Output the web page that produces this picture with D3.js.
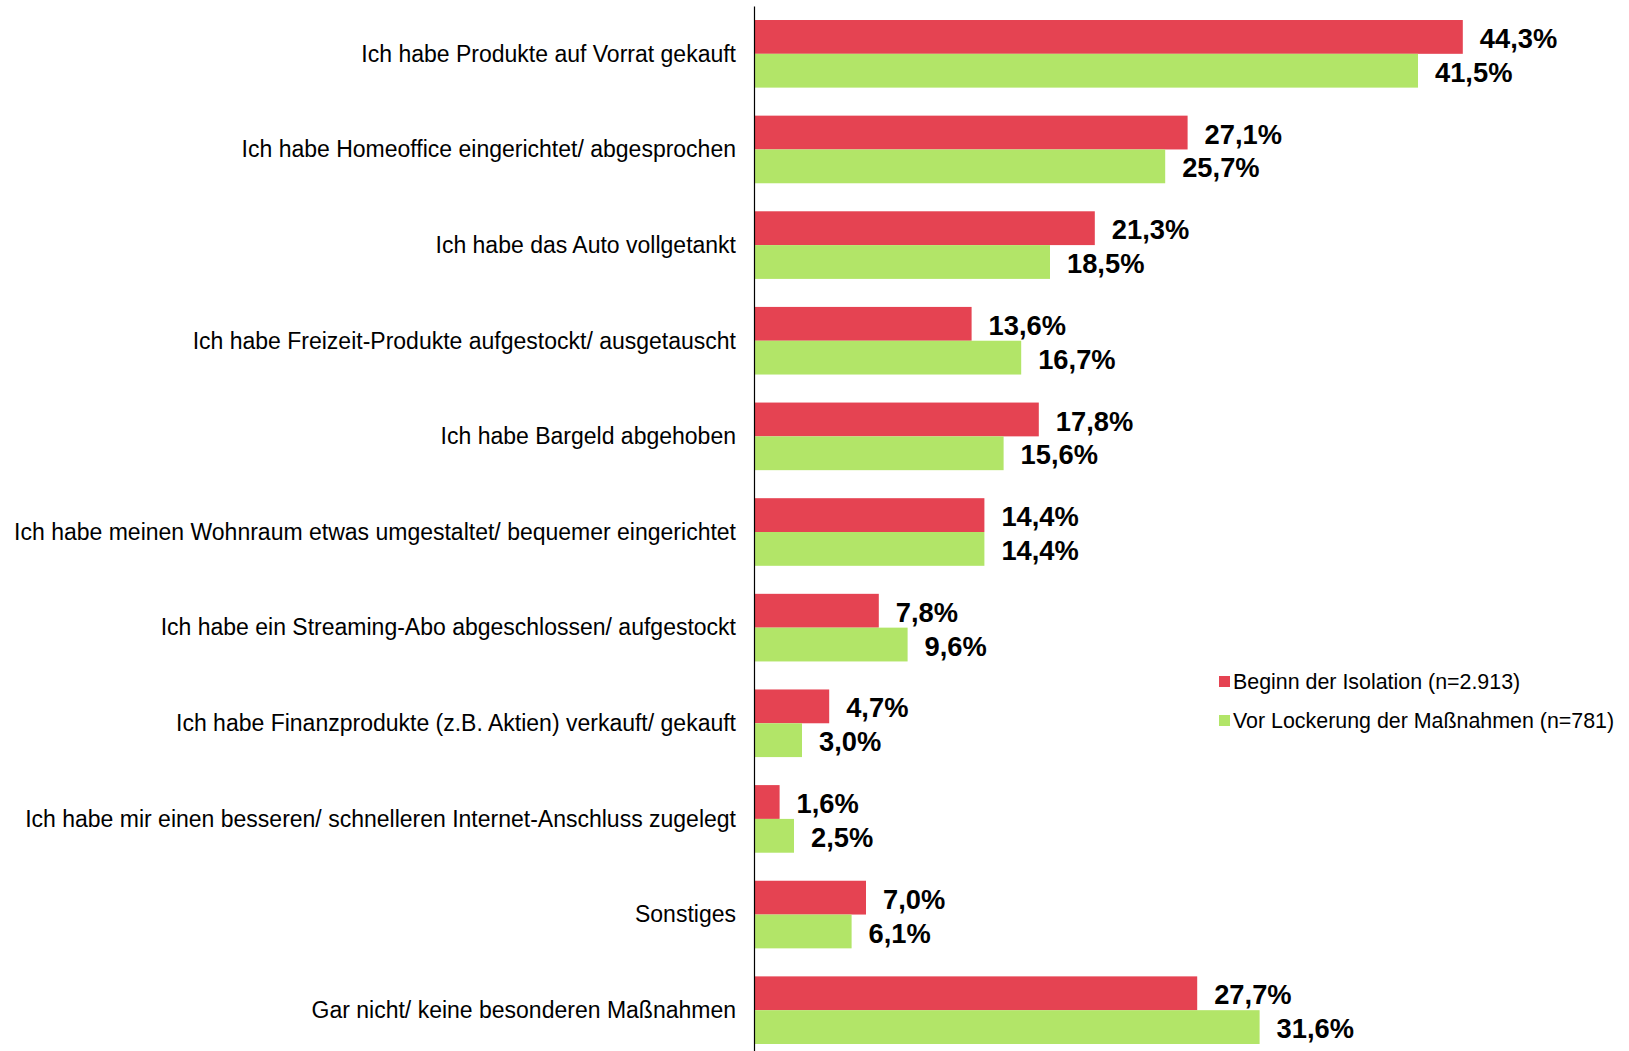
<!DOCTYPE html>
<html><head><meta charset="utf-8">
<script src="https://cdn.jsdelivr.net/npm/d3@7"></script>
<style>body{margin:0;background:#fff}svg{display:block;font-family:"Liberation Sans",Arial,sans-serif}</style>
</head><body><svg id="c" width="1629" height="1051"></svg>
<script>
const categories = [
  "Ich habe Produkte auf Vorrat gekauft",
  "Ich habe Homeoffice eingerichtet/ abgesprochen",
  "Ich habe das Auto vollgetankt",
  "Ich habe Freizeit-Produkte aufgestockt/ ausgetauscht",
  "Ich habe Bargeld abgehoben",
  "Ich habe meinen Wohnraum etwas umgestaltet/ bequemer eingerichtet",
  "Ich habe ein Streaming-Abo abgeschlossen/ aufgestockt",
  "Ich habe Finanzprodukte (z.B. Aktien) verkauft/ gekauft",
  "Ich habe mir einen besseren/ schnelleren Internet-Anschluss zugelegt",
  "Sonstiges",
  "Gar nicht/ keine besonderen Maßnahmen"
];
const seriesNames = ["Beginn der Isolation (n=2.913)", "Vor Lockerung der Maßnahmen (n=781)"];
const beginn = [44.3, 27.1, 21.3, 13.6, 17.8, 14.4, 7.8, 4.7, 1.6, 7.0, 27.7];
const vorLockerung = [41.5, 25.7, 18.5, 16.7, 15.6, 14.4, 9.6, 3.0, 2.5, 6.1, 31.6];
const colors = ["#E54352", "#B2E568"];

const svg = d3.select("#c");
const x = d3.scaleLinear().domain([0, 50]).range([754, 1554]);
const y0 = d3.scaleBand().domain(categories).range([6, 1058]).paddingInner(0.293).paddingOuter(0.1465);
const y1 = d3.scaleBand().domain([0, 1]).range([0, y0.bandwidth()]);
const fmt = v => d3.format(".1f")(v).replace(".", ",") + "%";

const seriesData = [beginn, vorLockerung];
const g = svg.append("g");
seriesData.forEach((vals, si) => {
  g.selectAll(".b" + si).data(vals).enter().append("rect")
    .attr("x", x(0))
    .attr("y", (d, i) => y0(categories[i]) + y1(si))
    .attr("width", d => x(d) - x(0))
    .attr("height", y1.bandwidth())
    .attr("fill", colors[si]);
  g.selectAll(".t" + si).data(vals).enter().append("text")
    .attr("x", d => x(d) + 17)
    .attr("y", (d, i) => y0(categories[i]) + y1(si) + y1.bandwidth() / 2 + 1.5)
    .attr("dy", "0.35em")
    .attr("font-size", 27.3)
    .attr("font-weight", "bold")
    .attr("fill", "#000")
    .text(fmt);
});

const axis = svg.append("g").attr("transform", `translate(${x(0)},0)`)
  .call(d3.axisLeft(y0).tickSize(0).tickSizeOuter(0).tickPadding(18));
axis.select(".domain").attr("stroke", "#000").attr("stroke-width", 1.2);
axis.selectAll("text").attr("font-size", 23).attr("fill", "#000").attr("dy", "0.34em")
  .attr("font-family", '"Liberation Sans",Arial,sans-serif');

const legend = svg.append("g").attr("transform", "translate(1219,0)");
seriesNames.forEach((n, i) => {
  const cy = 682 + i * 39;
  legend.append("rect").attr("x", 0).attr("y", cy - 6).attr("width", 11).attr("height", 11).attr("fill", colors[i]);
  legend.append("text").attr("x", 14).attr("y", cy).attr("dy", "0.35em")
    .attr("font-size", 21.4).attr("fill", "#000").text(n);
});
</script></body></html>
